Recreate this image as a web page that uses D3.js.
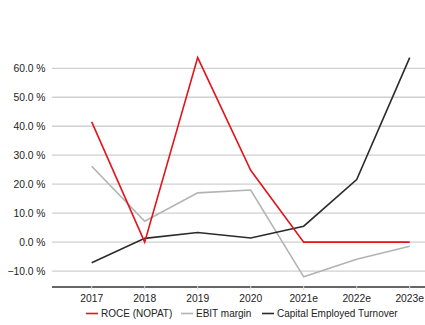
<!DOCTYPE html>
<html>
<head>
<meta charset="utf-8">
<script src="https://cdn.jsdelivr.net/npm/d3@7"></script>
<style>
  html, body { margin: 0; padding: 0; background: #fff; }
  svg { display: block; font-family: "Liberation Sans", Arial, sans-serif; }
</style>
</head>
<body>
<svg id="chart" width="425" height="325"></svg>
<script>
const categories = ["2017", "2018", "2019", "2020", "2021e", "2022e", "2023e"];
const roce = [41.5, 0.0, 63.7, 24.8, 0.0, 0.0, 0.0];
const ebitMargin = [26.2, 7.2, 17.0, 18.0, -12.0, -5.9, -1.4];
const capTurnover = [-7.1, 1.3, 3.3, 1.4, 5.5, 21.6, 63.7];
const yTicks = [-10, 0, 10, 20, 30, 40, 50, 60];
const seriesNames = ["ROCE (NOPAT)", "EBIT margin", "Capital Employed Turnover"];
const seriesColors = ["#e3141b", "#b3b3b3", "#2b2b2b"];

const series = [roce, ebitMargin, capTurnover];
const svg = d3.select("#chart");

const x = d3.scalePoint().domain(categories).range([91.7, 409.7]);
const y = d3.scaleLinear().domain([-15.5, 60]).range([287, 68.3]);

const plotLeft = 52, plotRight = 425;

// gridlines
svg.append("g").selectAll("line").data(yTicks).join("line")
  .attr("x1", plotLeft).attr("x2", plotRight)
  .attr("y1", d => y(d)).attr("y2", d => y(d))
  .attr("stroke", "#d0d0d0").attr("stroke-width", 1.3);

// y labels
svg.append("g").selectAll("text").data(yTicks).join("text")
  .attr("x", 45.5).attr("y", d => y(d)).attr("dy", "0.35em")
  .attr("text-anchor", "end").attr("font-size", 10.3).attr("fill", "#222")
  .text(d => d3.format(".1f")(d) + " %");

// x axis line
svg.append("line")
  .attr("x1", plotLeft).attr("x2", plotRight)
  .attr("y1", y(-15.5)).attr("y2", y(-15.5))
  .attr("stroke", "#333").attr("stroke-width", 1.4);

// ticks
svg.append("g").selectAll("line").data(categories).join("line")
  .attr("x1", d => x(d)).attr("x2", d => x(d))
  .attr("y1", y(-15.5) - 1).attr("y2", y(-15.5) + 3)
  .attr("stroke", "#ddd").attr("stroke-width", 1);

// x labels
svg.append("g").selectAll("text").data(categories).join("text")
  .attr("x", d => x(d)).attr("y", 298).attr("dy", "0.35em")
  .attr("text-anchor", "middle").attr("font-size", 10.3).attr("fill", "#222")
  .text(d => d);

// lines
const line = d3.line().x((d, i) => x(categories[i])).y(d => y(d));
const order = [1, 2, 0];
order.forEach(k => {
  svg.append("path").datum(series[k])
    .attr("d", line)
    .attr("fill", "none")
    .attr("stroke", seriesColors[k])
    .attr("stroke-width", 1.6)
    .attr("stroke-linejoin", "miter");
});

// legend
const legendX = [86, 181, 262];
const legend = svg.append("g");
seriesNames.forEach((name, k) => {
  legend.append("line")
    .attr("x1", legendX[k]).attr("x2", legendX[k] + 12)
    .attr("y1", 313.5).attr("y2", 313.5)
    .attr("stroke", seriesColors[k]).attr("stroke-width", 1.6);
  legend.append("text")
    .attr("x", legendX[k] + 15).attr("y", 313.5).attr("dy", "0.35em")
    .attr("font-size", 10).attr("fill", "#222")
    .text(name);
});
</script>
</body>
</html>
